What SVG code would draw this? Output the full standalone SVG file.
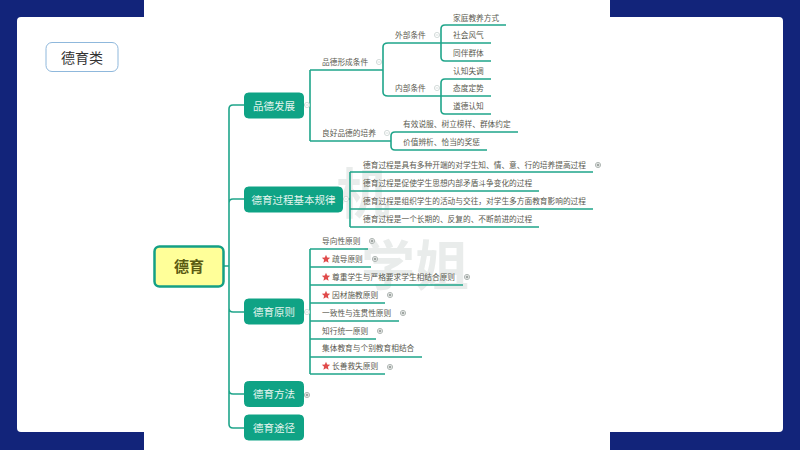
<svg xmlns="http://www.w3.org/2000/svg" width="800" height="450" viewBox="0 0 800 450">
<style>
text{font-family:"Noto Sans CJK SC","Liberation Sans",sans-serif}
.c{fill:none;stroke:#1fa58a;stroke-width:1.6}
.n rect{fill:#0fa385;stroke:#0fa385}
.n text{fill:#e4f5ef;font-size:10.500px;text-anchor:middle}
.l{fill:#5a5a50;font-size:7.700px}
.o{fill:#fff;stroke:#c9d3d0;stroke-width:.8}
.op{stroke:#cfd8d5;stroke-width:.8}
.e{fill:#fff;stroke:#9aa3a0;stroke-width:.8}
.ep{stroke:#6b7370;stroke-width:.8}
.s{fill:#e04b4b}
.w{fill:#e9eceb;font-weight:700}
</style>
<defs>
<g id="minus"><circle class="o" r="2.6"/><path class="op" d="M-1.5 0H1.5"/></g>
<g id="plus"><circle class="e" r="2.6"/><path class="ep" d="M-1.5 0H1.5M0-1.5V1.5"/></g>
<polygon id="star" class="s" points="0,-4.2 1.2,-1.4 4.2,-1.2 1.9,.8 2.6,3.8 0,2.2 -2.6,3.8 -1.9,.8 -4.2,-1.2 -1.2,-1.4"/>
</defs>
<rect width="800" height="450" fill="#12247a"/>
<rect x="17" y="17" width="766" height="415" rx="4" fill="#fff"/>
<rect x="144" width="466" height="450" fill="#fff"/>
<g id="watermark">
<text class="w" x="336" y="214" font-size="54">机</text>
<text class="w" x="361" y="286" font-size="54">学姐</text>
</g>
<g id="title"><rect x="46" y="42.500" width="72" height="29" rx="6" fill="#fff" stroke="#8fb8dc" stroke-width="1"/><text x="82" y="62.500" font-size="14" fill="#333" text-anchor="middle">德育类</text></g>
<g id="connectors">
<path class="c" d="M223 266H229M244 105H233Q229 105 229 109V424Q229 428 233 428H244M229 203Q229 199 233 199H244M229 308Q229 312 233 312H244M229 390Q229 394 233 394H244"/>
<path class="c" d="M303 105H310M310 70V141M310 70H383M310 141H391"/>
<path class="c" d="M506 25H445Q441 25 441 29V57Q441 61 445 61H491"/>
<path class="c" d="M491 43H388Q383 43 383 47V92Q383 96 388 96H491M491 79H445Q441 79 441 83V110Q441 114 445 114H491"/>
<path class="c" d="M518 132H395Q391 132 391 136V146Q391 150 395 150H487"/>
<path class="c" d="M343 199H350M350 172V227M350 172H593M350 191H539M350 209H593M350 227H539"/>
<path class="c" d="M303 312H310M310 249V374M310 249H368M310 267H371M310 285H463M310 303H385M310 321H399M310 339H376M310 357H422M310 374H385"/>
</g>
<g id="root"><rect x="154.500" y="246.500" width="69" height="40" rx="5" fill="#ffff99" stroke="#14a085" stroke-width="2.500"/><text x="189" y="272" font-size="15" font-weight="700" fill="#5b5b12" text-anchor="middle">德育</text></g>
<g id="n1" class="n"><rect x="244.500" y="93" width="59" height="25" rx="4"/><text x="274" y="109.500">品德发展</text></g>
<g id="n2" class="n"><rect x="244.500" y="187" width="98" height="25" rx="4"/><text x="293.500" y="203.500">德育过程基本规律</text></g>
<g id="n3" class="n"><rect x="244.500" y="299" width="59" height="25" rx="4"/><text x="274" y="316">德育原则</text></g>
<g id="n4" class="n"><rect x="244.500" y="381.500" width="59" height="25" rx="4"/><text x="274" y="398">德育方法</text></g>
<g id="n5" class="n"><rect x="244.500" y="415" width="59" height="25" rx="4"/><text x="274" y="431.500">德育途径</text></g>
<g id="labels">
<text class="l" x="322" y="65">品德形成条件</text>
<text class="l" x="322" y="136">良好品德的培养</text>
<text class="l" x="395" y="38">外部条件</text>
<text class="l" x="395" y="91">内部条件</text>
<text class="l" x="453" y="21">家庭教养方式</text>
<text class="l" x="453" y="38">社会风气</text>
<text class="l" x="453" y="56">同伴群体</text>
<text class="l" x="453" y="74">认知失调</text>
<text class="l" x="453" y="91">态度定势</text>
<text class="l" x="453" y="109">道德认知</text>
<text class="l" x="403" y="127">有效说服、树立榜样、群体约定</text>
<text class="l" x="403" y="145">价值辨析、恰当的奖惩</text>
<text class="l" x="363" y="167.500">德育过程是具有多种开端的对学生知、情、意、行的培养提高过程</text>
<text class="l" x="363" y="186">德育过程是促使学生思想内部矛盾斗争变化的过程</text>
<text class="l" x="363" y="204">德育过程是组织学生的活动与交往，对学生多方面教育影响的过程</text>
<text class="l" x="363" y="222">德育过程是一个长期的、反复的、不断前进的过程</text>
<text class="l" x="322" y="244">导向性原则</text>
<text class="l" x="332" y="262">疏导原则</text>
<text class="l" x="332" y="280">尊重学生与严格要求学生相结合原则</text>
<text class="l" x="332" y="298">因材施教原则</text>
<text class="l" x="322" y="316">一致性与连贯性原则</text>
<text class="l" x="322" y="334">知行统一原则</text>
<text class="l" x="322" y="351">集体教育与个别教育相结合</text>
<text class="l" x="332" y="369">长善救失原则</text>
<use href="#star" x="326" y="259"/>
<use href="#star" x="326" y="277"/>
<use href="#star" x="326" y="295"/>
<use href="#star" x="326" y="366"/>
</g>
<g id="toggles">
<use href="#minus" x="379" y="62"/><use href="#minus" x="437" y="35"/><use href="#minus" x="437" y="88"/>
<use href="#minus" x="387" y="133"/><use href="#minus" x="307" y="105"/><use href="#minus" x="346" y="199"/><use href="#minus" x="307" y="312"/>
<use href="#plus" x="598" y="165"/><use href="#plus" x="372" y="241"/><use href="#plus" x="375" y="259"/><use href="#plus" x="467" y="277"/>
<use href="#plus" x="390" y="295"/><use href="#plus" x="403" y="313"/><use href="#plus" x="380" y="331"/><use href="#plus" x="390" y="367"/><use href="#plus" x="307" y="395"/>
</g>
</svg>
